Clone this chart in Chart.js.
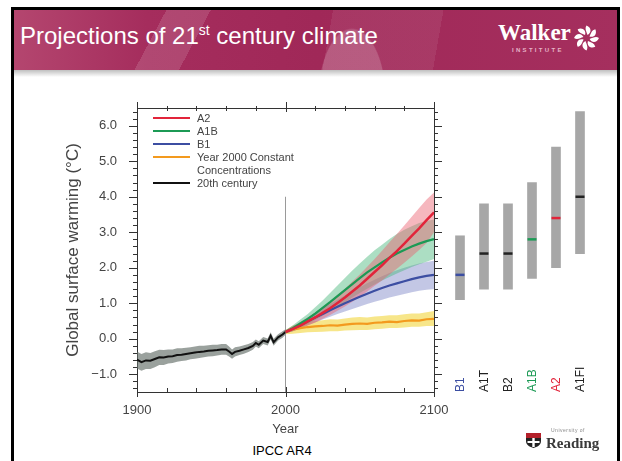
<!DOCTYPE html>
<html lang="en">
<head>
<meta charset="UTF-8">
<title>Projections of 21st century climate</title>
<script src="https://cdn.jsdelivr.net/npm/chart.js"></script>
<style>
  body {
    margin: 0;
    width: 622px;
    height: 461px;
    overflow: hidden;
    background: #fff;
    position: relative;
    font-family: Arial, "Liberation Sans", sans-serif;
  }
  .frame {
    position: absolute; left: 11px; top: 7px; width: 609px; height: 470px;
    box-sizing: border-box;
    border: 3px solid #000;
  }
  .header {
    position: absolute; left: 14px; top: 10px; width: 603px; height: 60px;
    background:
      radial-gradient(ellipse 34px 70px at 338px 88px, rgba(255,255,255,0.18) 0 97%, rgba(255,255,255,0) 100%),
      linear-gradient(118deg, rgba(255,255,255,0) 0 24%, rgba(255,255,255,0.13) 24% 31%, rgba(255,255,255,0) 31% 100%),
      linear-gradient(100deg, rgba(255,255,255,0) 0 52%, rgba(255,255,255,0.07) 52% 70%, rgba(255,255,255,0) 70%),
      linear-gradient(90deg, #b4466f 0%, #a52d5d 22%, #a02858 50%, #a52f5e 100%);
  }
  .shadow {
    position: absolute; left: 14px; top: 70px; width: 603px; height: 7px;
    background: linear-gradient(rgba(0,0,0,0.25), rgba(0,0,0,0));
  }
  .title {
    position: absolute; left: 20px; top: 24px;
    color: #fff; font-size: 24px; line-height: 24px; white-space: nowrap;
  }
  .title sup { font-size: 14px; vertical-align: 9px; line-height: 0; }
  .walker {
    position: absolute; left: 498px; top: 21px;
    color: #fff; font: bold 23px "Liberation Serif", "Times New Roman", serif; line-height: 24px;
  }
  .institute {
    position: absolute; left: 512px; top: 47px;
    color: #e6b3c7; font: bold 6px Arial, sans-serif; letter-spacing: 2.3px;
  }
  #walkerIcon { position: absolute; left: 573px; top: 24px; }
  #mainChart { position: absolute; left: 60px; top: 100px; }
  #barChart { position: absolute; left: 440px; top: 100px; }
  .legend-line { position: absolute; left: 153px; width: 37px; height: 2px; }
  .legend-text {
    position: absolute; left: 197px; font-size: 11px; line-height: 12px; color: #444; white-space: nowrap;
  }
  .source {
    position: absolute; left: 0; width: 564px; top: 443px; text-align: center;
    font-size: 13px; color: #000;
  }
  #readingShield { position: absolute; left: 526px; top: 433px; }
  .reading {
    position: absolute; left: 546px; top: 435px;
    font: bold 15px "Liberation Serif", serif; color: #3a3a3a;
  }
  .univ {
    position: absolute; left: 551px; top: 427px; font-size: 5px; color: #888; letter-spacing: 0.5px;
  }
</style>
</head>
<body>
<div class="header"></div>
<div class="shadow"></div>
<div class="frame"></div>
<div class="title">Projections of 21<sup>st</sup> century climate</div>
<div class="walker">Walker</div>
<div class="institute">INSTITUTE</div>
<svg id="walkerIcon" width="27" height="28" viewBox="-13 -13 26 26">
  <g fill="#fff">
    <path d="M0 -12 C5 -10 5 -5 1 -3 C0 -6 -2 -9 0 -12Z" transform="rotate(0)"/>
    <path d="M0 -12 C5 -10 5 -5 1 -3 C0 -6 -2 -9 0 -12Z" transform="rotate(45)"/>
    <path d="M0 -12 C5 -10 5 -5 1 -3 C0 -6 -2 -9 0 -12Z" transform="rotate(90)"/>
    <path d="M0 -12 C5 -10 5 -5 1 -3 C0 -6 -2 -9 0 -12Z" transform="rotate(135)"/>
    <path d="M0 -12 C5 -10 5 -5 1 -3 C0 -6 -2 -9 0 -12Z" transform="rotate(180)"/>
    <path d="M0 -12 C5 -10 5 -5 1 -3 C0 -6 -2 -9 0 -12Z" transform="rotate(225)"/>
    <path d="M0 -12 C5 -10 5 -5 1 -3 C0 -6 -2 -9 0 -12Z" transform="rotate(270)"/>
    <path d="M0 -12 C5 -10 5 -5 1 -3 C0 -6 -2 -9 0 -12Z" transform="rotate(315)"/>
  </g>
</svg>

<canvas id="mainChart" width="390" height="340"></canvas>
<canvas id="barChart" width="160" height="300"></canvas>
<div id="legend"></div>

<div class="source">IPCC AR4</div>
<div class="univ">University of</div>
<svg id="readingShield" width="15" height="15" viewBox="0 0 15 15">
  <path d="M0 0 H15 V5 H0Z" fill="#b3202a"/>
  <path d="M0 5 H15 V8 C15 12 11 14 7.5 15 C4 14 0 12 0 8Z" fill="#222"/>
  <path d="M6.3 5 H8.7 V14 H6.3Z M1.5 8 H13.5 V10 H1.5Z" fill="#fff"/>
</svg>
<div class="reading">Reading</div>

<script>
// 20th century warming (°C relative to 1980-1999)
const years20 = [1900, 1903, 1906, 1909, 1912, 1915, 1918, 1921, 1924, 1927, 1930, 1933, 1936, 1939, 1942, 1945, 1948, 1951, 1954, 1957, 1960, 1962, 1964, 1966, 1969, 1972, 1975, 1978, 1980, 1982, 1985, 1988, 1990, 1992, 1995, 1998, 2000];
const warm20   = [-0.59, -0.66, -0.61, -0.62, -0.57, -0.52, -0.53, -0.50, -0.49, -0.46, -0.45, -0.43, -0.41, -0.39, -0.37, -0.36, -0.34, -0.33, -0.32, -0.30, -0.30, -0.36, -0.43, -0.37, -0.34, -0.30, -0.26, -0.20, -0.12, -0.17, -0.05, -0.09, 0.08, -0.10, 0.04, 0.12, 0.19];
const warm20Lo = [-0.84, -0.90, -0.85, -0.85, -0.80, -0.74, -0.74, -0.70, -0.68, -0.65, -0.63, -0.61, -0.58, -0.56, -0.54, -0.52, -0.50, -0.49, -0.47, -0.45, -0.45, -0.50, -0.56, -0.50, -0.46, -0.42, -0.37, -0.31, -0.22, -0.27, -0.15, -0.19, -0.02, -0.20, -0.05, 0.03, 0.11];
const warm20Hi = [-0.36, -0.43, -0.38, -0.40, -0.35, -0.31, -0.32, -0.30, -0.30, -0.27, -0.27, -0.25, -0.24, -0.22, -0.20, -0.20, -0.18, -0.17, -0.17, -0.15, -0.15, -0.22, -0.30, -0.24, -0.22, -0.18, -0.15, -0.09, -0.02, -0.07, 0.05, 0.01, 0.18, 0.00, 0.13, 0.21, 0.27];

// 21st century projections
const yearsProj = [2000, 2005, 2010, 2015, 2020, 2025, 2030, 2035, 2040, 2045, 2050, 2055, 2060, 2065, 2070, 2075, 2080, 2085, 2090, 2095, 2100];
const a2   = [0.19, 0.28, 0.37, 0.49, 0.60, 0.73, 0.86, 1.01, 1.16, 1.33, 1.50, 1.69, 1.88, 2.07, 2.28, 2.47, 2.68, 2.90, 3.11, 3.34, 3.56];
const a2Lo = [0.15, 0.21, 0.28, 0.37, 0.46, 0.56, 0.67, 0.79, 0.91, 1.04, 1.18, 1.33, 1.49, 1.64, 1.81, 1.97, 2.14, 2.32, 2.50, 2.70, 3.00];
const a2Hi = [0.24, 0.35, 0.47, 0.60, 0.74, 0.89, 1.05, 1.23, 1.41, 1.61, 1.81, 2.03, 2.25, 2.48, 2.72, 2.95, 3.19, 3.44, 3.68, 3.92, 4.12];
const a1b   = [0.19, 0.30, 0.43, 0.56, 0.71, 0.87, 1.03, 1.20, 1.37, 1.54, 1.71, 1.87, 2.01, 2.15, 2.28, 2.40, 2.50, 2.60, 2.68, 2.75, 2.81];
const a1bLo = [0.15, 0.22, 0.32, 0.42, 0.53, 0.65, 0.77, 0.90, 1.03, 1.16, 1.29, 1.41, 1.53, 1.64, 1.74, 1.84, 1.93, 2.02, 2.10, 2.17, 2.25];
const a1bHi = [0.24, 0.38, 0.54, 0.70, 0.89, 1.08, 1.29, 1.50, 1.71, 1.92, 2.12, 2.31, 2.49, 2.65, 2.81, 2.95, 3.07, 3.17, 3.26, 3.32, 3.36];
const b1   = [0.19, 0.28, 0.38, 0.49, 0.60, 0.70, 0.80, 0.90, 1.00, 1.09, 1.18, 1.27, 1.35, 1.43, 1.50, 1.56, 1.62, 1.68, 1.73, 1.77, 1.80];
const b1Lo = [0.15, 0.21, 0.29, 0.38, 0.46, 0.54, 0.62, 0.70, 0.77, 0.84, 0.91, 0.98, 1.04, 1.10, 1.16, 1.21, 1.26, 1.31, 1.35, 1.38, 1.40];
const b1Hi = [0.24, 0.35, 0.47, 0.60, 0.73, 0.86, 0.98, 1.10, 1.22, 1.34, 1.45, 1.56, 1.66, 1.76, 1.85, 1.93, 2.00, 2.06, 2.12, 2.16, 2.20];
const constant   = [0.19, 0.26, 0.30, 0.33, 0.35, 0.36, 0.38, 0.37, 0.40, 0.42, 0.43, 0.42, 0.45, 0.46, 0.48, 0.47, 0.50, 0.52, 0.51, 0.55, 0.56];
const constantLo = [0.13, 0.14, 0.16, 0.18, 0.19, 0.20, 0.21, 0.21, 0.23, 0.24, 0.25, 0.25, 0.27, 0.28, 0.30, 0.30, 0.32, 0.34, 0.34, 0.36, 0.36];
const constantHi = [0.25, 0.37, 0.43, 0.48, 0.50, 0.52, 0.55, 0.54, 0.57, 0.60, 0.61, 0.60, 0.63, 0.64, 0.66, 0.66, 0.69, 0.71, 0.71, 0.75, 0.78];

// vertical marker at year 2000
const markerYears = [2000, 2000];
const markerValues = [-1.5, 4.0];

const xTicks = [1900, 2000, 2100];
const yTicks = [-1, 0, 1, 2, 3, 4, 5, 6];

// likely ranges for 2090-2099 by scenario
const scenarios = ['B1', 'A1T', 'B2', 'A1B', 'A2', 'A1FI'];
const bestEstimate = [1.8, 2.4, 2.4, 2.8, 3.4, 4.0];
const likelyLow  = [1.1, 1.4, 1.4, 1.7, 2.0, 2.4];
const likelyHigh = [2.9, 3.8, 3.8, 4.4, 5.4, 6.4];
const scenarioColors = ['#3c4ea2', '#222', '#222', '#1c9a55', '#e2243a', '#222'];

const legendLabels = [['A2'], ['A1B'], ['B1'], ['Year 2000 Constant', 'Concentrations'], ['20th century']];
const legendColors = ['#e2243a', '#1c9a55', '#3c4ea2', '#f39a1e', '#111'];
const legendRowsY = [118, 131, 143.5, 156.5, 183];

Chart.defaults.font.family = 'Arial, "Liberation Sans", sans-serif';

const pts = (xs, ys) => xs.map((x, i) => ({x: x, y: ys[i]}));
const line = (label, xs, ys, color, width) => ({
  label: label, data: pts(xs, ys), borderColor: color, borderWidth: width,
  pointRadius: 0, fill: false
});
const band = (xs, ys, color, target) => ({
  data: pts(xs, ys), borderWidth: 0, borderColor: 'rgba(0,0,0,0)', pointRadius: 0,
  backgroundColor: color, fill: target === undefined ? false : target
});

// box and ticks on all four sides
const axisBox = {
  id: 'axisBox',
  afterDraw(chart) {
    const {ctx, chartArea: a, scales: {x, y}} = chart;
    ctx.save();
    ctx.strokeStyle = '#333';
    ctx.lineWidth = 1;
    ctx.beginPath();
    ctx.moveTo(a.left, a.top + 0.5); ctx.lineTo(a.right, a.top + 0.5);
    ctx.moveTo(a.right + 0.5, a.top); ctx.lineTo(a.right + 0.5, a.bottom);
    for (let v = -14; v <= 64; v += 2) {
      const py = Math.round(y.getPixelForValue(v / 10)) + 0.5;
      const len = v % 10 === 0 ? 8 : 4;
      ctx.moveTo(a.left - len, py); ctx.lineTo(a.left, py);
      ctx.moveTo(a.right, py); ctx.lineTo(a.right + len, py);
    }
    for (let yr = 1900; yr <= 2100; yr += 20) {
      const px = Math.round(x.getPixelForValue(yr)) + 0.5;
      if (yr % 100 === 0) {
        ctx.moveTo(px, a.bottom - 5); ctx.lineTo(px, a.bottom + 5);
        ctx.moveTo(px, a.top - 6); ctx.lineTo(px, a.top + 4);
      } else {
        ctx.moveTo(px, a.bottom - 4); ctx.lineTo(px, a.bottom);
        ctx.moveTo(px, a.top - 2); ctx.lineTo(px, a.top + 3);
      }
    }
    ctx.stroke();
    ctx.restore();
  }
};

// invisible tick marks are used as the gap between axis and labels
const hiddenTicks = len => ({
  display: true, drawOnChartArea: false, drawTicks: true, tickLength: len, tickColor: 'rgba(0,0,0,0)'
});

new Chart(document.getElementById('mainChart'), {
  type: 'line',
  data: {
    datasets: [
      line('A2', yearsProj, a2, '#e2243a', 2.5),
      line('A1B', yearsProj, a1b, '#1c9a55', 2.2),
      line('B1', yearsProj, b1, '#3c4ea2', 2.2),
      line('Year 2000 Constant Concentrations', yearsProj, constant, '#f39a1e', 2.2),
      line('20th century', years20, warm20, '#111', 2),
      line('2000', markerYears, markerValues, '#9a9a9a', 1),
      band(yearsProj, a2Lo, 'rgba(0,0,0,0)'),
      band(yearsProj, a2Hi, 'rgba(236, 96, 110, 0.45)', 6),
      band(yearsProj, a1bLo, 'rgba(0,0,0,0)'),
      band(yearsProj, a1bHi, 'rgba(70, 182, 122, 0.45)', 8),
      band(yearsProj, b1Lo, 'rgba(0,0,0,0)'),
      band(yearsProj, b1Hi, 'rgba(112, 122, 192, 0.42)', 10),
      band(yearsProj, constantLo, 'rgba(0,0,0,0)'),
      band(yearsProj, constantHi, 'rgba(242, 214, 60, 0.6)', 12),
      band(years20, warm20Lo, 'rgba(0,0,0,0)'),
      band(years20, warm20Hi, 'rgba(100, 110, 104, 0.65)', 14)
    ]
  },
  options: {
    responsive: false,
    animation: false,
    events: [],
    layout: {padding: {top: 8, right: 16, left: 0, bottom: 0}},
    plugins: {legend: {display: false}, tooltip: {enabled: false}},
    elements: {line: {tension: 0}},
    scales: {
      x: {
        type: 'linear', min: 1900, max: 2100,
        afterBuildTicks: s => { s.ticks = xTicks.map(v => ({value: v})); },
        afterFit: s => { s.height = 48; },
        grid: hiddenTicks(11),
        border: {display: true, color: '#333', width: 1},
        ticks: {padding: 0, color: '#444', font: {size: 13}, maxRotation: 0, autoSkip: false,
                callback: v => String(v)},
        title: {display: true, text: 'Year', color: '#444', font: {size: 13}, padding: {top: 0, bottom: 3}}
      },
      y: {
        min: -1.5, max: 6.5,
        afterBuildTicks: s => { s.ticks = yTicks.map(v => ({value: v})); },
        afterFit: s => { s.width = 77; },
        grid: hiddenTicks(20),
        border: {display: true, color: '#333', width: 1},
        ticks: {padding: 0, color: '#444', font: {size: 13},
                callback: v => (v < 0 ? '\u2212' : '') + Math.abs(v).toFixed(1)},
        title: {display: true, text: 'Global surface warming (°C)', color: '#444', font: {size: 17},
                padding: {top: 3, bottom: 0}}
      }
    }
  },
  plugins: [axisBox]
});

// scenario names written upward from the bottom of the plot
const scenarioLabels = {
  id: 'scenarioLabels',
  afterDraw(chart) {
    const {ctx, chartArea: a, scales: {x}} = chart;
    ctx.save();
    ctx.font = '12px Arial, "Liberation Sans", sans-serif';
    ctx.textAlign = 'left';
    ctx.textBaseline = 'middle';
    scenarios.forEach((name, i) => {
      ctx.save();
      ctx.translate(x.getPixelForValue(i) + 1, a.bottom);
      ctx.rotate(-Math.PI / 2);
      ctx.fillStyle = scenarioColors[i];
      ctx.fillText(name, 0, 0);
      ctx.restore();
    });
    ctx.restore();
  }
};

new Chart(document.getElementById('barChart'), {
  type: 'bar',
  data: {
    labels: scenarios,
    datasets: [
      {
        type: 'line', data: bestEstimate, showLine: false,
        pointStyle: 'line', pointRadius: 4.5, pointBorderWidth: 2.5,
        pointBorderColor: scenarioColors, borderColor: scenarioColors
      },
      {
        data: likelyLow.map((lo, i) => [lo, likelyHigh[i]]),
        backgroundColor: '#a7a7a7', borderWidth: 0, barThickness: 9
      }
    ]
  },
  options: {
    responsive: false,
    animation: false,
    events: [],
    layout: {padding: {top: 8, bottom: 8, left: 8, right: 8}},
    plugins: {legend: {display: false}, tooltip: {enabled: false}},
    scales: {
      x: {display: false, offset: true},
      y: {display: false, min: -1.5, max: 6.5}
    }
  },
  plugins: [scenarioLabels]
});

// legend inside the plot
const legendBox = document.getElementById('legend');
legendLabels.forEach((lines, i) => {
  const y = legendRowsY[i];
  const swatch = document.createElement('div');
  swatch.className = 'legend-line';
  swatch.style.top = (y - 1) + 'px';
  swatch.style.background = legendColors[i];
  legendBox.appendChild(swatch);
  lines.forEach((text, j) => {
    const t = document.createElement('div');
    t.className = 'legend-text';
    t.style.top = (y - 6 + j * 13) + 'px';
    t.textContent = text;
    legendBox.appendChild(t);
  });
});
</script>
</body>
</html>
